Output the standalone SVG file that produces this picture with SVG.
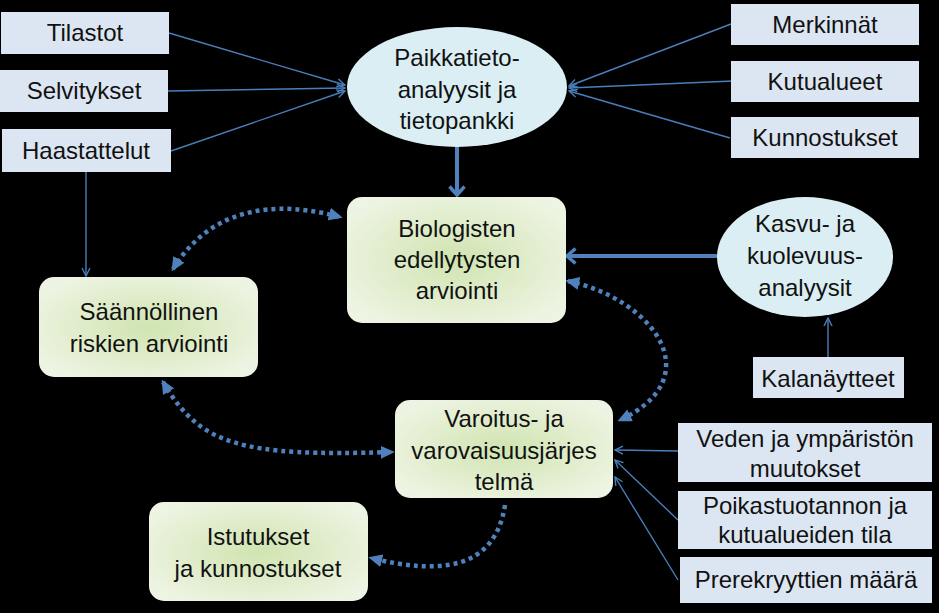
<svg xmlns="http://www.w3.org/2000/svg" width="939" height="613" viewBox="0 0 939 613">
<style>
text{font-family:"Liberation Sans",Arial,sans-serif;font-size:24px;fill:#111;text-anchor:middle}
.bx{fill:#dce6f2}
.el{fill:#dbeef4}
.gr{fill:url(#gg)}
.thin{stroke:#4a7ebb;stroke-width:1.4;fill:none;marker-end:url(#mt)}
.thick{stroke:#4f81bd;stroke-width:4;fill:none;marker-end:url(#mk)}
.dot{stroke:#4f81bd;stroke-width:4.5;fill:none;stroke-dasharray:4 4}
</style>
<defs>
<radialGradient id="gg" cx="50%" cy="50%" r="60%">
<stop offset="0" stop-color="#d0e4b0"/>
<stop offset="1" stop-color="#eef4e3"/>
</radialGradient>
<marker id="mt" viewBox="0 0 10 10" refX="9" refY="5" markerWidth="10" markerHeight="10" markerUnits="userSpaceOnUse" orient="auto">
<path d="M1,1 L9,5 L1,9" fill="none" stroke="#4a7ebb" stroke-width="1.4"/>
</marker>
<marker id="mk" viewBox="0 0 12 18" refX="10" refY="9" markerWidth="12" markerHeight="18" markerUnits="userSpaceOnUse" orient="auto">
<path d="M1.5,1.5 L10,9 L1.5,16.5" fill="none" stroke="#4f81bd" stroke-width="3.5"/>
</marker>
<marker id="md" viewBox="0 0 10 10" refX="8" refY="5" markerWidth="14" markerHeight="13" markerUnits="userSpaceOnUse" orient="auto-start-reverse" preserveAspectRatio="none">
<path d="M0,0 L10,5 L0,10 z" fill="#4f81bd"/>
</marker>
</defs>
<rect width="939" height="613" fill="#000"/>
<g id="connectors">
<path class="thin" d="M169,33 L345,85"/>
<path class="thin" d="M168,91 L345,88"/>
<path class="thin" d="M171,151 L345,91"/>
<path class="thin" d="M731,24 L569,86"/>
<path class="thin" d="M733,81 L569,88"/>
<path class="thin" d="M730,138 L569,91"/>
<path class="thin" d="M86,172 L86,276"/>
<path class="thin" d="M828,357 L828,318"/>
<path class="thin" d="M678,451 L615,450"/>
<path class="thin" d="M678,520 L615,460"/>
<path class="thin" d="M678,580 L615,477"/>
<path class="thick" d="M457,147 L457,195"/>
<path class="thick" d="M717,256 L567,256"/>
<path class="dot" d="M173,269 C200,225 250,193 340,217" marker-start="url(#md)" marker-end="url(#md)"/>
<path class="dot" d="M568,281 C655,300 710,378 620,420" marker-start="url(#md)" marker-end="url(#md)"/>
<path class="dot" d="M163,382 C200,445 240,457 392,452" marker-start="url(#md)" marker-end="url(#md)"/>
<path class="dot" d="M505,505 C495,570 440,575 371,558" marker-end="url(#md)"/>
</g>
<g id="tilastot"><rect class="bx" x="1" y="12" width="168" height="42"/><text x="85" y="41">Tilastot</text></g>
<g id="selvitykset"><rect class="bx" x="0" y="70" width="168" height="42"/><text x="84" y="99">Selvitykset</text></g>
<g id="haastattelut"><rect class="bx" x="2" y="129" width="169" height="43"/><text x="86" y="159">Haastattelut</text></g>
<g id="merkinnat"><rect class="bx" x="731" y="4" width="188" height="41"/><text x="825" y="33">Merkinnät</text></g>
<g id="kutualueet"><rect class="bx" x="731" y="61" width="188" height="41"/><text x="825" y="90">Kutualueet</text></g>
<g id="kunnostukset"><rect class="bx" x="731" y="117" width="188" height="41"/><text x="825" y="146">Kunnostukset</text></g>
<g id="paikkatieto"><ellipse class="el" cx="457" cy="87" rx="110" ry="60"/><text x="457" y="66">Paikkatieto-</text><text x="457" y="98">analyysit ja</text><text x="457" y="129">tietopankki</text></g>
<g id="biologisten"><rect class="gr" x="347" y="197" width="219" height="126" rx="15"/><text x="457" y="237">Biologisten</text><text x="457" y="268">edellytysten</text><text x="457" y="299">arviointi</text></g>
<g id="saannollinen"><rect class="gr" x="39" y="277" width="219" height="100" rx="15"/><text x="149" y="320">Säännöllinen</text><text x="149" y="352">riskien arviointi</text></g>
<g id="kasvu"><ellipse class="el" cx="805" cy="257" rx="88" ry="60"/><text x="805" y="232">Kasvu- ja</text><text x="805" y="264">kuolevuus-</text><text x="805" y="296">analyysit</text></g>
<g id="kalanaytteet"><rect class="bx" x="753" y="357" width="151" height="41"/><text x="828" y="387">Kalanäytteet</text></g>
<g id="varoitus"><rect class="gr" x="395" y="400" width="218" height="98" rx="15"/><text x="504" y="427">Varoitus- ja</text><text x="504" y="459">varovaisuusjärjes</text><text x="504" y="490">telmä</text></g>
<g id="istutukset"><rect class="gr" x="149" y="502" width="219" height="99" rx="15"/><text x="258" y="545">Istutukset</text><text x="258" y="577">ja kunnostukset</text></g>
<g id="veden"><rect class="bx" x="678" y="423" width="254" height="59"/><text x="805" y="447">Veden ja ympäristön</text><text x="805" y="477">muutokset</text></g>
<g id="poikastuotannon"><rect class="bx" x="678" y="491" width="254" height="58"/><text x="805" y="514">Poikastuotannon ja</text><text x="805" y="543">kutualueiden tila</text></g>
<g id="prerekryyttien"><rect class="bx" x="680" y="557" width="252" height="46"/><text x="806" y="588">Prerekryyttien määrä</text></g>
</svg>
